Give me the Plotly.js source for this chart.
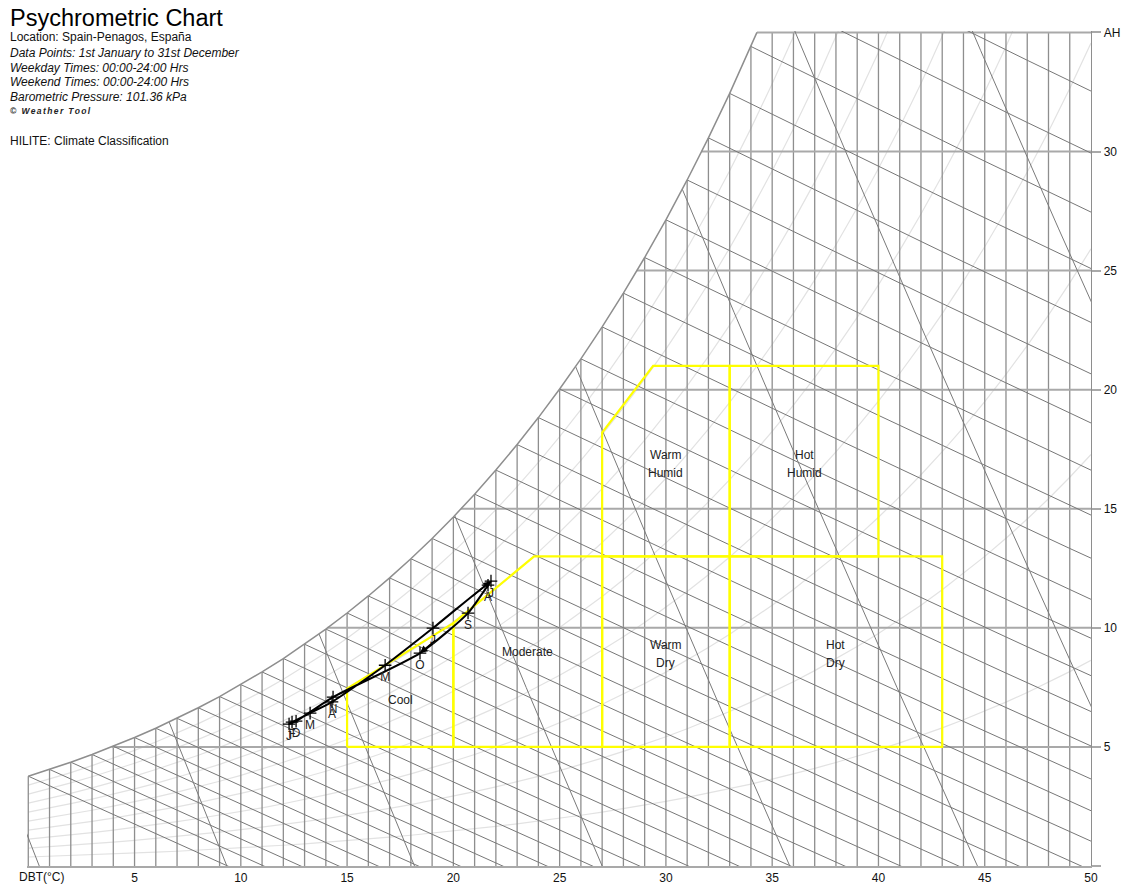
<!DOCTYPE html>
<html><head><meta charset="utf-8">
<script src="https://cdn.plot.ly/plotly-3.0.1.min.js"></script>
<style>html,body{margin:0;padding:0;background:#fff;}#chart{width:1127px;height:886px;}</style>
</head><body><div id="chart"></div>
<script>
// ---------- data ----------
const monthLabels = ['J','F','M','A','M','J','J','A','S','O','N','D'];
const monthDBT = [12.27,12.41,13.26,14.29,16.79,19.04,21.77,21.63,20.69,18.43,14.34,12.60];
const monthAH  = [5.96, 6.04, 6.42, 6.89, 8.43, 9.99, 11.96,11.79,10.62,8.94, 7.09, 6.08];

const zoneNames = ['Cool','Moderate','Warm Dry','Hot Dry','Warm Humid','Hot Humid'];
const zoneDBT = [
  [15,20,20,15,15],
  [20,27,27,23.8,20,20],
  [27,33,33,27,27],
  [33,43,43,33,33],
  [27,33,33,29.4,27,27],
  [33,40,40,33,33]
];
const zoneAH = [
  [5,5,10.2,7.45,5],
  [5,5,13,13,10.2,5],
  [5,5,13,13,5],
  [5,5,13,13,5],
  [13,13,21,21,18.2,13],
  [13,13,21,21,13]
];
const zoneLabelLines = [['Cool'],['Moderate'],['Warm','Dry'],['Hot','Dry'],['Warm','Humid'],['Hot','Humid']];

const xTickVals = [5,10,15,20,25,30,35,40,45,50];
const yTickVals = [0,5,10,15,20,25,30,35];
const yTickText = ['','5','10','15','20','25','30','AH'];

const pressure = 101.36; // kPa
const wetBulbTemps = [];  for (let t=0;t<=40;t++) wetBulbTemps.push(t);
const dbtGrid = [];       for (let t=0;t<=50;t++) dbtGrid.push(t);
const ahGrid = [5,10,15,20,25,30,35];
const rhLevels = [0.1,0.2,0.3,0.4,0.5,0.6,0.7,0.8,0.9];
const volumeLevels = [0.775,0.8,0.825,0.85,0.875,0.9,0.925,0.95];

// ---------- psychrometric grid (chart structure) ----------
const XMIN=-0.06, XMAX=50, YMIN=0, YMAX=35.06, WTOP=35;
function pws(T){ return 0.61094*Math.exp(17.625*T/(T+243.04)); }
function ws(T){ const p=pws(T); return 622*p/(pressure-p); }
function wsPoly(T){
  if (T<=0) return ws(T);
  const a=Math.floor(T), b=a+1, f=T-a;
  return ws(a)*(1-f)+ws(b)*f;
}
function tAtSat(w){ // T where saturation polyline reaches w
  for (let t=0;t<60;t++){ if (ws(t+1)>=w && ws(t)<=w){ return t+(w-ws(t))/(ws(t+1)-ws(t)); } }
  return null;
}

const traces = [];
// RH (percentage saturation) curves
{ const x=[],y=[];
  rhLevels.forEach(p=>{ dbtGrid.forEach(t=>{x.push(t);y.push(p*ws(t));}); x.push(null);y.push(null); });
  traces.push({x,y,mode:'lines',line:{color:'#e2e2e2',width:1.2},hoverinfo:'skip'});
}
// vertical DBT lines
{ const x=[],y=[];
  dbtGrid.forEach(t=>{ if(t>=50) return; x.push(t,t,null); y.push(0,Math.min(wsPoly(t),WTOP),null); });
  traces.push({x,y,mode:'lines',line:{color:'#8e8e8e',width:1.3},hoverinfo:'skip'});
}
// horizontal AH lines
{ const x=[],y=[];
  ahGrid.forEach(w=>{ x.push(tAtSat(w),50,null); y.push(w,w,null); });
  traces.push({x,y,mode:'lines',line:{color:'#a9a9a9',width:2},hoverinfo:'skip'});
}
// wet bulb lines
{ const x=[],y=[];
  wetBulbTemps.forEach(twb=>{
    const wsk=ws(twb)/1000;
    for (let T=twb; T<=twb+70; T+=1){
      const w=((2501-2.326*twb)*wsk-1.006*(T-twb))/(2501+1.86*T-4.186*twb)*1000;
      x.push(T); y.push(w);
      if (w<0) break;
    }
    x.push(null); y.push(null);
  });
  traces.push({x,y,mode:'lines',line:{color:'#777',width:1},hoverinfo:'skip'});
}
// specific volume lines
{ const x=[],y=[];
  volumeLevels.forEach(v=>{
    const Tof = w => v*pressure/(0.287042*(1+1.607858*w/1000))-273.15;
    let pw=0, pT=Tof(0);
    x.push(pT); y.push(0);
    for (let w=0.25; w<=45; w+=0.25){
      const T=Tof(w);
      if (w>wsPoly(T)){
        let lo=pw, hi=w;
        for (let k=0;k<30;k++){ const m=(lo+hi)/2; if (m>wsPoly(Tof(m))) hi=m; else lo=m; }
        x.push(Tof(lo)); y.push(lo); break;
      }
      x.push(T); y.push(w); pw=w; pT=T;
    }
    x.push(null); y.push(null);
  });
  traces.push({x,y,mode:'lines',line:{color:'#7a7a7a',width:1},hoverinfo:'skip'});
}
// saturation curve
{ const x=[],y=[];
  dbtGrid.forEach(t=>{ if (ws(t)<=WTOP){ x.push(t); y.push(ws(t)); } });
  x.push(tAtSat(WTOP)); y.push(WTOP);
  traces.push({x,y,mode:'lines',line:{color:'#8e8e8e',width:1.5},hoverinfo:'skip'});
}
// climate zones
zoneNames.forEach((n,i)=>{
  traces.push({x:zoneDBT[i],y:zoneAH[i],mode:'lines',name:n,line:{color:'#ffff00',width:2.2},hoverinfo:'skip'});
});
// monthly path
{ const x=monthDBT.concat([monthDBT[0]]), y=monthAH.concat([monthAH[0]]);
  traces.push({x,y,mode:'lines',line:{color:'#000',width:2,shape:'spline',smoothing:0.6},hoverinfo:'skip'});
  traces.push({x:monthDBT,y:monthAH,mode:'markers+text',text:monthLabels,textposition:'bottom center',
    textfont:{family:'Arial, "Liberation Sans", sans-serif',size:12,color:'#222'},
    marker:{symbol:'cross-thin',size:9,color:'#000',line:{color:'#000',width:1.3}},cliponaxis:false,hoverinfo:'skip'});
}

// ---------- annotations ----------
const L=27, TOP=31, W=1064, H=835;
const FONT='Arial, "Liberation Sans", sans-serif';
function pxA(text,px,py,opts){
  return Object.assign({xref:'paper',yref:'paper',x:(px-L)/W,y:1-(py-TOP)/H,text,showarrow:false,
    xanchor:'left',yanchor:'middle',font:{family:FONT,size:12,color:'#111'}},opts||{});
}
const annotations=[
  pxA('Psychrometric Chart',8,18,{font:{family:FONT,size:23.5,color:'#000'}}),
  pxA('Location: Spain-Penagos, España',8,37.5),
  pxA('<i>Data Points: 1st January to 31st December</i>',8,52.5),
  pxA('<i>Weekday Times: 00:00-24:00 Hrs</i>',8,67.5),
  pxA('<i>Weekend Times: 00:00-24:00 Hrs</i>',8,82),
  pxA('<i>Barometric Pressure: 101.36 kPa</i>',8,97),
  pxA('<span style="letter-spacing:1.4px"><b><i>© Weather Tool</i></b></span>',8,111,{font:{family:FONT,size:8.5,color:'#222'}}),
  pxA('HILITE: Climate Classification',8,140.5),
  pxA('DBT(°C)',41,877,{xanchor:'center'})
];
// zone labels (data coords)
const zoneLabelPos = [[17.5,6.97],[23.47,8.98],[30.0,8.9],[38.0,8.9],[30.0,16.88],[36.5,16.88]];
zoneLabelLines.forEach((lines,i)=>{
  const n=lines.length;
  lines.forEach((s,k)=>{
    annotations.push({x:zoneLabelPos[i][0],y:zoneLabelPos[i][1],xref:'x',yref:'y',text:s,showarrow:false,
      yshift:(n-1)*9-k*18,font:{family:FONT,size:12,color:'#222'}});
  });
});
// direction arrows on the monthly loop
[[5,6],[11,0],[8,9]].forEach(([a,b])=>{
  const xb=monthDBT[b], yb=monthAH[b];
  annotations.push({x:xb,y:yb,ax:xb-0.35*(xb-monthDBT[a]),ay:yb-0.35*(yb-monthAH[a]),xref:'x',yref:'y',axref:'x',ayref:'y',
    text:'',showarrow:true,arrowhead:2,arrowsize:1,arrowwidth:1.5,arrowcolor:'#000',standoff:0});
});

const layout={
  width:1127,height:886,margin:{l:L,r:36,t:TOP,b:20},
  paper_bgcolor:'#fff',plot_bgcolor:'#fff',showlegend:false,
  font:{family:FONT,size:12,color:'#111'},
  xaxis:{range:[XMIN,XMAX],tickvals:xTickVals,ticks:'',showgrid:false,zeroline:false,
    showline:true,linecolor:'#a9a9a9',linewidth:2,tickfont:{size:12,color:'#111'},fixedrange:true},
  yaxis:{range:[YMIN,YMAX],side:'right',tickvals:yTickVals,ticktext:yTickText,ticks:'outside',ticklen:9,tickwidth:2,
    tickcolor:'#a9a9a9',showgrid:false,zeroline:false,showline:true,linecolor:'#8e8e8e',linewidth:1.3,
    tickfont:{size:12,color:'#111'},fixedrange:true},
  annotations
};
Plotly.newPlot('chart',traces,layout,{staticPlot:true,displayModeBar:false});
</script></body></html>
